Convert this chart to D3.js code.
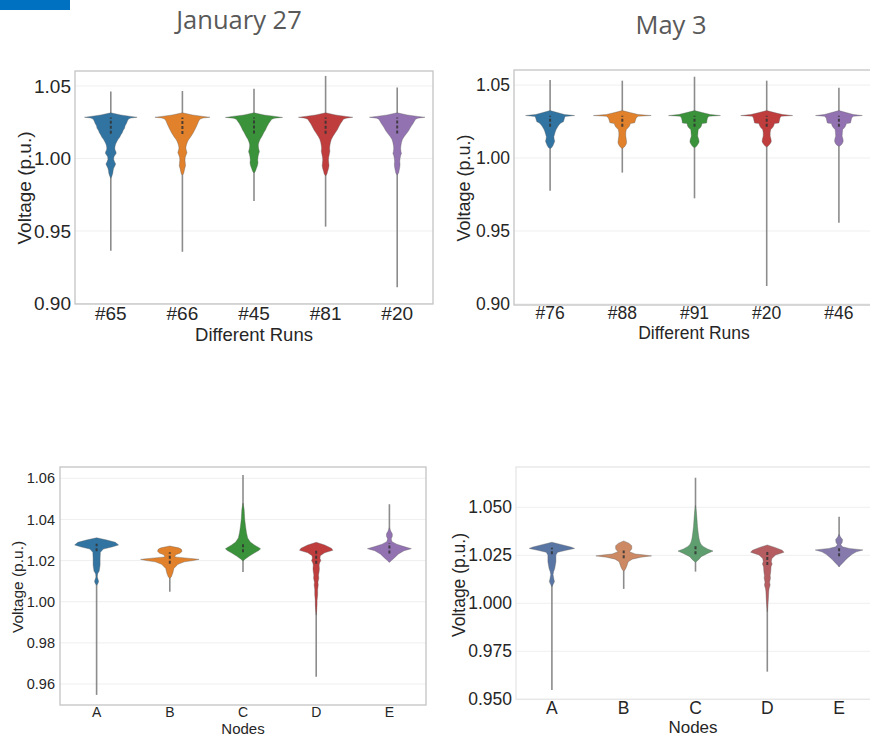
<!DOCTYPE html>
<html><head><meta charset="utf-8">
<script src="https://cdn.jsdelivr.net/npm/d3@7"></script>
<style>body{margin:0;background:#fff}svg{display:block}</style>
</head><body>
<svg id="c" width="870" height="737"></svg>
<script>
// ---------------- DATA ----------------
const titles = ["January 27", "May 3"];

// Panel 1: January 27, different runs
const janRuns = ["#65", "#66", "#45", "#81", "#20"];
const janRunsTicks = [0.90, 0.95, 1.00, 1.05];
const janRunsRange = [[0.9364, 1.0461], [0.9357, 1.0465], [0.9707, 1.0480], [0.9530, 1.0569], [0.9112, 1.0490]];
const janRunsBox = [[1.0170, 1.0282], [1.0168, 1.0282], [1.0172, 1.0282], [1.0170, 1.0282], [1.0172, 1.0282]];
const janRunsShape = [
  [[1.0315,0],[1.0300,0.35],[1.0290,0.7],[1.0284,0.92],[1.0279,0.7],[1.0272,0.62],[1.0258,0.58],[1.0243,0.55],[1.0225,0.5],[1.0208,0.48],[1.0193,0.43],[1.0178,0.4],[1.0162,0.35],[1.0146,0.31],[1.0130,0.25],[1.0116,0.21],[1.0100,0.17],[1.0086,0.15],[1.0070,0.14],[1.0059,0.15],[1.0046,0.18],[1.0036,0.19],[1.0024,0.15],[1.0012,0.11],[0.9994,0.1],[0.9978,0.13],[0.9962,0.17],[0.9948,0.14],[0.9932,0.1],[0.9915,0.08],[0.9898,0.07],[0.9880,0.04],[0.9863,0]],
  [[1.0315,0],[1.0300,0.35],[1.0290,0.72],[1.0284,0.96],[1.0279,0.72],[1.0272,0.62],[1.0258,0.57],[1.0243,0.54],[1.0225,0.5],[1.0208,0.46],[1.0193,0.42],[1.0178,0.38],[1.0162,0.33],[1.0146,0.28],[1.0130,0.22],[1.0116,0.18],[1.0100,0.15],[1.0086,0.13],[1.0070,0.12],[1.0055,0.14],[1.0040,0.16],[1.0025,0.13],[1.0010,0.1],[0.9990,0.09],[0.9970,0.1],[0.9950,0.11],[0.9930,0.08],[0.9910,0.06],[0.9895,0.04],[0.9886,0]],
  [[1.0315,0],[1.0300,0.35],[1.0290,0.75],[1.0283,1.0],[1.0278,0.72],[1.0270,0.62],[1.0257,0.57],[1.0243,0.52],[1.0225,0.47],[1.0210,0.43],[1.0197,0.4],[1.0180,0.35],[1.0165,0.31],[1.0150,0.27],[1.0130,0.21],[1.0110,0.17],[1.0093,0.15],[1.0070,0.16],[1.0047,0.19],[1.0030,0.16],[1.0010,0.14],[0.9990,0.13],[0.9970,0.14],[0.9950,0.12],[0.9930,0.08],[0.9912,0.05],[0.9900,0]],
  [[1.0315,0],[1.0300,0.35],[1.0290,0.72],[1.0284,0.95],[1.0278,0.72],[1.0270,0.62],[1.0257,0.58],[1.0243,0.53],[1.0225,0.48],[1.0210,0.44],[1.0195,0.4],[1.0180,0.35],[1.0165,0.3],[1.0150,0.25],[1.0130,0.2],[1.0110,0.17],[1.0090,0.15],[1.0070,0.14],[1.0050,0.15],[1.0030,0.13],[1.0010,0.11],[0.9990,0.1],[0.9970,0.11],[0.9950,0.12],[0.9930,0.1],[0.9910,0.07],[0.9895,0.05],[0.9880,0]],
  [[1.0315,0],[1.0300,0.35],[1.0290,0.72],[1.0284,0.97],[1.0278,0.72],[1.0270,0.64],[1.0257,0.6],[1.0243,0.56],[1.0225,0.5],[1.0210,0.45],[1.0195,0.41],[1.0180,0.36],[1.0165,0.3],[1.0150,0.24],[1.0130,0.18],[1.0110,0.15],[1.0090,0.13],[1.0070,0.12],[1.0050,0.13],[1.0035,0.15],[1.0020,0.12],[1.0000,0.1],[0.9980,0.09],[0.9960,0.1],[0.9940,0.09],[0.9920,0.07],[0.9900,0.05],[0.9886,0]]
];

// Panel 2: May 3, different runs
const mayRuns = ["#76", "#88", "#91", "#20", "#46"];
const mayRunsTicks = [0.90, 0.95, 1.00, 1.05];
const mayRunsRange = [[0.9776, 1.0534], [0.9900, 1.0530], [0.9724, 1.0557], [0.9123, 1.0530], [0.9557, 1.0482]];
const mayRunsBox = [[1.0215, 1.0290], [1.0215, 1.0290], [1.0215, 1.0290], [1.0215, 1.0290], [1.0215, 1.0290]];
const mayRunsShape = [
  [[1.0325,0],[1.0310,0.28],[1.0298,0.5],[1.0291,0.85],[1.0285,0.52],[1.0275,0.5],[1.0260,0.48],[1.0248,0.46],[1.0240,0.37],[1.0225,0.3],[1.0212,0.26],[1.0195,0.21],[1.0180,0.18],[1.0160,0.15],[1.0146,0.13],[1.0130,0.14],[1.0115,0.16],[1.0100,0.13],[1.0085,0.1],[1.0072,0.06],[1.0065,0]],
  [[1.0325,0],[1.0310,0.3],[1.0298,0.55],[1.0291,1.0],[1.0286,0.55],[1.0275,0.48],[1.0255,0.45],[1.0242,0.43],[1.0236,0.28],[1.0220,0.25],[1.0207,0.2],[1.0195,0.14],[1.0175,0.12],[1.0150,0.12],[1.0125,0.14],[1.0105,0.15],[1.0090,0.12],[1.0075,0.07],[1.0065,0]],
  [[1.0325,0],[1.0310,0.3],[1.0298,0.55],[1.0291,0.9],[1.0286,0.5],[1.0275,0.45],[1.0255,0.43],[1.0240,0.42],[1.0236,0.26],[1.0220,0.24],[1.0207,0.2],[1.0195,0.13],[1.0175,0.12],[1.0150,0.11],[1.0125,0.15],[1.0110,0.16],[1.0095,0.12],[1.0080,0.07],[1.0070,0]],
  [[1.0325,0],[1.0310,0.3],[1.0298,0.55],[1.0291,0.9],[1.0286,0.5],[1.0275,0.46],[1.0255,0.44],[1.0240,0.42],[1.0236,0.27],[1.0220,0.24],[1.0207,0.2],[1.0195,0.14],[1.0175,0.12],[1.0150,0.12],[1.0128,0.15],[1.0112,0.16],[1.0098,0.12],[1.0085,0.07],[1.0075,0]],
  [[1.0325,0],[1.0310,0.28],[1.0298,0.5],[1.0291,0.81],[1.0286,0.5],[1.0275,0.44],[1.0255,0.42],[1.0240,0.4],[1.0236,0.26],[1.0220,0.23],[1.0207,0.19],[1.0195,0.13],[1.0175,0.12],[1.0150,0.11],[1.0130,0.14],[1.0115,0.15],[1.0100,0.12],[1.0088,0.07],[1.0080,0]]
];

// Panel 3: January 27, nodes
const janNodes = ["A", "B", "C", "D", "E"];
const janNodesTicks = [0.96, 0.98, 1.00, 1.02, 1.04, 1.06];
const janNodesRange = [[0.9547, 1.0290], [1.0049, 1.0270], [1.0145, 1.0616], [0.9635, 1.0260], [1.0192, 1.0474]];
const janNodesBox = [[1.0245, 1.0282], [1.0185, 1.0240], [1.0240, 1.0280], [1.0185, 1.0258], [1.0235, 1.0285]];
const janNodesShape = [
  [[1.0311,0],[1.0300,0.35],[1.0289,0.64],[1.0276,0.75],[1.0266,0.52],[1.0256,0.23],[1.0240,0.13],[1.0211,0.12],[1.0178,0.12],[1.0149,0.09],[1.0135,0.03],[1.0120,0.02],[1.0105,0.06],[1.0097,0.07],[1.0088,0.04],[1.0080,0]],
  [[1.0271,0],[1.0262,0.3],[1.0256,0.39],[1.0245,0.42],[1.0236,0.35],[1.0228,0.2],[1.0218,0.17],[1.0212,0.6],[1.0206,1.0],[1.0200,0.8],[1.0194,0.5],[1.0182,0.28],[1.0162,0.14],[1.0138,0.1],[1.0120,0.05],[1.0114,0]],
  [[1.0480,0],[1.0450,0.04],[1.0400,0.06],[1.0365,0.09],[1.0335,0.12],[1.0310,0.16],[1.0290,0.25],[1.0275,0.4],[1.0265,0.52],[1.0258,0.6],[1.0250,0.55],[1.0238,0.4],[1.0222,0.22],[1.0208,0.08],[1.0198,0]],
  [[1.0289,0],[1.0276,0.29],[1.0260,0.52],[1.0250,0.57],[1.0238,0.29],[1.0224,0.14],[1.0210,0.13],[1.0200,0.16],[1.0190,0.12],[1.0178,0.1],[1.0160,0.11],[1.0146,0.1],[1.0130,0.08],[1.0114,0.09],[1.0095,0.06],[1.0081,0.07],[1.0060,0.05],[1.0033,0.05],[1.0005,0.03],[0.9984,0.03],[0.9955,0.015],[0.9935,0]],
  [[1.0360,0],[1.0345,0.04],[1.0330,0.1],[1.0318,0.1],[1.0305,0.06],[1.0292,0.09],[1.0280,0.25],[1.0268,0.5],[1.0258,0.75],[1.0248,0.5],[1.0232,0.31],[1.0212,0.16],[1.0200,0.07],[1.0192,0]]
];

// Panel 4: May 3, nodes
const mayNodes = ["A", "B", "C", "D", "E"];
const mayNodesTicks = [0.950, 0.975, 1.000, 1.025, 1.050];
const mayNodesRange = [[0.9548, 1.0290], [1.0075, 1.0315], [1.0165, 1.0654], [0.9644, 1.0280], [1.0191, 1.0451]];
const mayNodesBox = [[1.0255, 1.0290], [1.0235, 1.0275], [1.0255, 1.0300], [1.0200, 1.0270], [1.0245, 1.0290]];
const mayNodesShape = [
  [[1.0318,0],[1.0304,0.38],[1.0293,0.66],[1.0286,0.79],[1.0276,0.49],[1.0266,0.2],[1.0252,0.14],[1.0217,0.14],[1.0182,0.1],[1.0165,0.06],[1.0150,0.04],[1.0125,0.07],[1.0113,0.09],[1.0100,0.05],[1.0086,0]],
  [[1.0325,0],[1.0313,0.18],[1.0300,0.28],[1.0283,0.28],[1.0269,0.2],[1.0257,0.4],[1.0251,0.75],[1.0247,0.97],[1.0240,0.6],[1.0230,0.3],[1.0217,0.16],[1.0191,0.1],[1.0175,0.05],[1.0168,0]],
  [[1.0510,0],[1.0490,0.02],[1.0443,0.05],[1.0400,0.07],[1.0373,0.09],[1.0340,0.12],[1.0321,0.15],[1.0305,0.2],[1.0295,0.28],[1.0283,0.42],[1.0272,0.61],[1.0260,0.42],[1.0243,0.2],[1.0226,0.1],[1.0214,0]],
  [[1.0304,0],[1.0290,0.29],[1.0276,0.52],[1.0266,0.58],[1.0252,0.29],[1.0234,0.16],[1.0218,0.14],[1.0205,0.17],[1.0190,0.13],[1.0165,0.12],[1.0145,0.1],[1.0130,0.11],[1.0110,0.08],[1.0095,0.1],[1.0075,0.06],[1.0060,0.05],[1.0030,0.04],[1.0008,0.03],[0.9980,0.015],[0.9956,0]],
  [[1.0360,0],[1.0345,0.05],[1.0333,0.12],[1.0318,0.11],[1.0305,0.06],[1.0294,0.12],[1.0286,0.35],[1.0278,0.83],[1.0268,0.6],[1.0255,0.45],[1.0243,0.35],[1.0230,0.25],[1.0217,0.17],[1.0200,0.06],[1.0191,0]]
];

const colorsA = ["#3274a1", "#e1812c", "#3a923a", "#c03d3e", "#9372b2"];
const colorsB = ["#5975a4", "#cc8963", "#5f9e6e", "#b55d60", "#857aab"];

// ---------------- DRAW ----------------
const svg = d3.select("#c");
const FONT = "'Liberation Sans', Arial, sans-serif";

svg.append("rect").attr("x", 0).attr("y", 0).attr("width", 70).attr("height", 10).attr("fill", "#0070c0");

svg.append("text").attr("x", 239).attr("y", 28.5).attr("text-anchor", "middle")
  .attr("font-family", "'Open Sans', sans-serif").attr("font-size", 25.5).attr("fill", "#595959").text(titles[0]);
svg.append("text").attr("x", 671).attr("y", 33.5).attr("text-anchor", "middle")
  .attr("font-family", "'Open Sans', sans-serif").attr("font-size", 25.5).attr("fill", "#595959").text(titles[1]);

function panel(o) {
  const g = svg.append("g");
  const x = d3.scaleBand().domain(o.cats).range([o.x0, o.x1]);
  const y = d3.scaleLinear().domain(o.ydom).range([o.y1, o.y0]);
  const wScale = d3.scaleLinear().domain([0, 1]).range([0, x.bandwidth() * 0.4]);

  g.selectAll("line.grid").data(o.ticks).join("line")
    .attr("x1", o.x0).attr("x2", o.x1).attr("y1", d => y(d)).attr("y2", d => y(d))
    .attr("stroke", "#efefef").attr("stroke-width", 1);

  const ya = g.append("g").attr("transform", `translate(${o.x0},0)`)
    .call(d3.axisLeft(y).tickValues(o.ticks).tickFormat(d3.format(o.fmt)).tickSize(0).tickPadding(o.ypad));
  ya.select(".domain").remove();
  ya.selectAll("text").attr("font-family", FONT).attr("font-size", o.tfs).attr("fill", "#262626");

  const xa = g.append("g").attr("transform", `translate(0,${o.y1})`)
    .call(d3.axisBottom(x).tickSize(0).tickPadding(o.xpad));
  xa.select(".domain").remove();
  xa.selectAll("text").attr("font-family", FONT).attr("font-size", o.xtfs).attr("fill", "#262626");

  g.append("rect").attr("x", o.x0).attr("y", o.y0).attr("width", o.x1 - o.x0).attr("height", o.y1 - o.y0)
    .attr("fill", "none").attr("stroke", o.frame).attr("stroke-width", 1.3);

  o.cats.forEach((c, i) => {
    const cx = x(c) + x.bandwidth() / 2;
    const r = o.range[i];
    g.append("line").attr("x1", cx).attr("x2", cx).attr("y1", y(r[0])).attr("y2", y(r[1]))
      .attr("stroke", "#8c8c8c").attr("stroke-width", 1.6);
    const area = d3.area().curve(d3.curveLinear)
      .y(d => y(d[0])).x0(d => cx - wScale(d[1])).x1(d => cx + wScale(d[1]));
    g.append("path").datum(o.shape[i]).attr("d", area)
      .attr("fill", o.colors[i]).attr("stroke", "#5a5a5a").attr("stroke-width", 0.5).attr("stroke-opacity", 0.7);
    const b = o.box[i];
    g.append("line").attr("x1", cx).attr("x2", cx).attr("y1", y(b[0])).attr("y2", y(b[1]))
      .attr("stroke", "#333").attr("stroke-width", 2).attr("stroke-dasharray", "3,2").attr("stroke-opacity", 0.85);
  });

  g.append("text").attr("x", (o.x0 + Math.min(o.x1, 870)) / 2 + (o.xlabDx || 0)).attr("y", o.xlabY)
    .attr("text-anchor", "middle").attr("font-family", FONT).attr("font-size", o.lfs).attr("fill", "#262626").text(o.xlab);
  g.append("text").attr("transform", `translate(${o.ylabX},${o.ylabY}) rotate(-90)`)
    .attr("text-anchor", "middle").attr("dominant-baseline", "central")
    .attr("font-family", FONT).attr("font-size", o.ylfs).attr("fill", "#262626").text("Voltage (p.u.)");
}

panel({cats: janRuns, ticks: janRunsTicks, range: janRunsRange, box: janRunsBox, shape: janRunsShape, colors: colorsA,
  x0: 75, x1: 433, y0: 71, y1: 304, ydom: [0.8997, 1.0603], fmt: ".2f", tfs: 19, xtfs: 19, lfs: 18.5, ylfs: 19, ypad: 4, xpad: 2,
  xlab: "Different Runs", xlabY: 340.5, xlabDx: 0, ylabX: 24, ylabY: 188, frame: "#c4c4c4"});
panel({cats: mayRuns, ticks: mayRunsTicks, range: mayRunsRange, box: mayRunsBox, shape: mayRunsShape, colors: colorsA,
  x0: 514, x1: 875, y0: 70, y1: 305, ydom: [0.8993, 1.0603], fmt: ".2f", tfs: 17.5, xtfs: 17.5, lfs: 17.5, ylfs: 18, ypad: 4, xpad: 2,
  xlab: "Different Runs", xlabY: 339, xlabDx: 2, ylabX: 464, ylabY: 188, frame: "#c4c4c4"});
panel({cats: janNodes, ticks: janNodesTicks, range: janNodesRange, box: janNodesBox, shape: janNodesShape, colors: colorsA,
  x0: 60, x1: 426, y0: 467, y1: 705, ydom: [0.9498, 1.0655], fmt: ".2f", tfs: 14.5, xtfs: 14, lfs: 15, ylfs: 15.5, ypad: 5, xpad: 2,
  xlab: "Nodes", xlabY: 733.5, ylabX: 17, ylabY: 587, frame: "#c4c4c4"});
panel({cats: mayNodes, ticks: mayNodesTicks, range: mayNodesRange, box: mayNodesBox, shape: mayNodesShape, colors: colorsB,
  x0: 516, x1: 875, y0: 467, y1: 699.3, ydom: [0.95, 1.071], fmt: ".3f", tfs: 17.5, xtfs: 17.5, lfs: 17, ylfs: 17.5, ypad: 4, xpad: 2,
  xlab: "Nodes", xlabY: 733, xlabDx: 0, ylabX: 459, ylabY: 585, frame: "#e6e6e6"});
</script>
</body></html>
